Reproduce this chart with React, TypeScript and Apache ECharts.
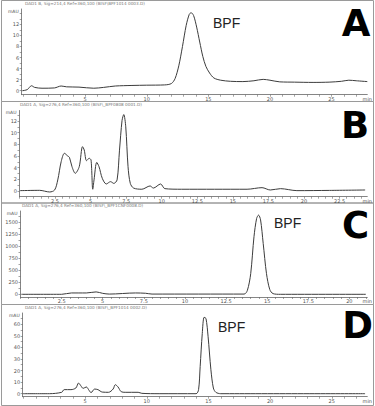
import React, { useEffect, useRef } from 'react';
import * as echarts from 'echarts';

// ---- Panel A (time min, signal mAU) ----
const traceA: [number, number][] = [
  [-0.1, 0], [0.3, 0.2], [0.65, 0.9], [0.9, 0.6], [1.5, 0.45], [2.5, 0.5], [3.05, 0.85], [3.5, 0.7],
  [4.5, 0.65], [5.7, 0.45], [6.5, 0.6], [7.45, 0.85], [8.8, 0.95], [10, 1.0], [11.45, 1.05], [12.0, 1.3],
  [12.3, 2.2], [12.6, 4.5], [12.9, 8.0], [13.2, 11.8], [13.45, 13.8], [13.6, 14.1], [13.8, 13.6],
  [14.05, 11.5], [14.3, 8.8], [14.55, 6.2], [14.8, 4.4], [15.1, 3.2], [15.45, 2.3], [16.0, 1.9],
  [16.8, 1.7], [17.8, 1.65], [18.7, 1.8], [19.45, 2.05], [20.0, 1.9], [20.8, 1.6], [22, 1.55],
  [23.5, 1.5], [24.8, 1.55], [25.8, 1.7], [26.4, 1.9], [27.0, 1.8], [27.9, 1.65],
];
const xLabelsA = [5, 10, 15, 20, 25];
const yLabelsA = [0, 2, 4, 6, 8, 10, 12];

// ---- Panel B ----
const traceB: [number, number][] = [
  [0.03, 0.06], [1.42, 0.11], [2.12, -0.17], [2.47, 0.17], [2.69, 1.89], [2.93, 5.03], [3.16, 6.46],
  [3.39, 6.0], [3.51, 5.77], [3.69, 4.17], [3.92, 3.03], [4.2, 4.17], [4.43, 7.6], [4.55, 7.03],
  [4.71, 5.2], [4.9, 5.6], [5.03, 5.3], [5.15, 0.3], [5.24, 1.9], [5.43, 4.9], [5.59, 4.17],
  [5.82, 2.17], [6.1, 1.2], [6.4, 1.6], [6.63, 1.3], [6.86, 1.9], [7.03, 7.0], [7.21, 12.1],
  [7.33, 13.1], [7.47, 11.0], [7.63, 4.17], [7.79, 1.3], [8.02, 0.5], [8.6, 0.3], [9.18, 0.86],
  [9.41, 0.5], [9.92, 1.2], [10.22, 0.4], [11.38, 0.3], [13.7, 0.3], [16.0, 0.3], [17.05, 0.57],
  [17.63, 0.17], [18.35, 0.4], [19.5, 0.06], [21.8, 0.1], [24.3, 0.17],
];
const xLabelsB = [2.5, 5, 7.5, 10, 12.5, 15, 17.5, 20, 22.5];
const yLabelsB = [0, 2, 4, 6, 8, 10, 12];

// ---- Panel C ----
const traceC: [number, number][] = [
  [0.05, 0], [2.5, 0], [3.1, 28], [4.0, 28], [4.6, 50], [5.0, 20], [5.4, 5], [7.0, 28], [7.6, 22],
  [8.0, 5], [13.6, 5], [13.8, 84], [14.0, 430], [14.2, 1200], [14.36, 1580], [14.48, 1650],
  [14.6, 1550], [14.76, 1060], [14.96, 430], [15.16, 100], [15.36, 14], [15.8, 0], [21.0, 0],
];
const xLabelsC = [2.5, 5, 7.5, 10, 12.5, 15, 17.5, 20];
const yLabelsC = [0, 250, 500, 750, 1000, 1250, 1500];

// ---- Panel D ----
const traceD: [number, number][] = [
  [-0.05, 0], [2.1, 0], [3.1, 1.2], [3.3, 3.5], [3.85, 3.5], [4.25, 4.9], [4.47, 9.2], [4.65, 6.9],
  [4.84, 4.6], [5.1, 5.8], [5.32, 2.9], [5.48, 0.9], [5.77, 4.0], [6.04, 3.5], [6.39, 1.4],
  [6.9, 1.2], [7.27, 4.0], [7.45, 7.8], [7.67, 5.8], [7.93, 1.7], [8.25, 1.2], [9.3, 1.2],
  [9.6, 0.3], [11, 0], [14.0, 0], [14.2, 3.5], [14.33, 23.6], [14.5, 52], [14.65, 66], [14.8, 65],
  [14.97, 49.6], [15.2, 20.7], [15.4, 4.9], [15.6, 1.2], [16.0, 0], [27.7, 0],
];
const xLabelsD = [5, 10, 15, 20, 25];
const yLabelsD = [0, 10, 20, 30, 40, 50, 60];

const titles = [
  'DAD1 B, Sig=214,4 Ref=360,100 (BISF\\BPF1014 0003.D)',
  'DAD1 A, Sig=276,4 Ref=360,100 (BISF\\_BPF0808 0001.D)',
  'DAD1 A, Sig=276,4 Ref=360,100 (BISF\\_BPF1CNF0008.D)',
  'DAD1 A, Sig=276,4 Ref=360,100 (BISF\\_BPF1014 0002.D)',
];
const letters = ['A', 'B', 'C', 'D'];

function range(a: number, b: number, step: number) {
  const out: number[] = [];
  for (let v = a; v <= b + 1e-9; v += step) out.push(Math.round(v * 1000) / 1000);
  return out;
}

type Panel = {
  data: [number, number][];
  grid: { left: number; top: number; width: number; height: number };
  xMin: number; xMax: number; xLabels: number[]; xMinor: number;
  yMin: number; yMax: number; yLabels: number[]; yMinor: number;
};

const panels: Panel[] = [
  { data: traceA, grid: { left: 21.7, top: 9, width: 350.3, height: 85.7 }, xMin: -0.15, xMax: 27.9, xLabels: xLabelsA, xMinor: 1, yMin: -0.72, yMax: 14.77, yLabels: yLabelsA, yMinor: 1 },
  { data: traceB, grid: { left: 19.5, top: 110.5, width: 352.5, height: 86.2 }, xMin: 0, xMax: 24.45, xLabels: xLabelsB, xMinor: 0.5, yMin: -0.98, yMax: 13.8, yLabels: yLabelsB, yMinor: 1 },
  { data: traceC, grid: { left: 20.5, top: 211, width: 351.5, height: 86 }, xMin: 0, xMax: 21.09, xLabels: xLabelsC, xMinor: 0.5, yMin: -56, yMax: 1735, yLabels: yLabelsC, yMinor: 125 },
  { data: traceD, grid: { left: 22.7, top: 313, width: 349.3, height: 83.7 }, xMin: -0.06, xMax: 27.88, xLabels: xLabelsD, xMinor: 1, yMin: -2.6, yMax: 69.7, yLabels: yLabelsD, yMinor: 5 },
];

const axisColor = '#666';
const labelColor = '#555';

export default function App() {
  const ref = useRef<HTMLDivElement>(null);
  useEffect(() => {
    if (!ref.current) return;
    const chart = echarts.init(ref.current, undefined, { renderer: 'svg' });
    const grids = panels.map((p) => ({ ...p.grid, containLabel: false }));
    const xAxes = panels.map((p, i) => ({
      type: 'value',
      gridIndex: i,
      min: p.xMin,
      max: p.xMax,
      axisLine: { show: true, onZero: false, lineStyle: { color: axisColor, width: 0.8 } },
      axisTick: {
        show: true,
        customValues: range(Math.ceil(p.xMin / p.xMinor) * p.xMinor, p.xMax, p.xMinor),
        length: 2,
        lineStyle: { color: axisColor, width: 0.6 },
      },
      axisLabel: {
        customValues: [...p.xLabels, p.xMax],
        formatter: (v: number) => (Math.abs(v - p.xMax) < 1e-6 ? 'min' : String(v)),
        fontSize: 5,
        lineHeight: 5,
        color: labelColor,
        margin: 1.5,
        fontFamily: 'DejaVu Sans',
      },
      splitLine: { show: false },
    }));
    const yAxes = panels.map((p, i) => ({
      type: 'value',
      gridIndex: i,
      min: p.yMin,
      max: p.yMax,
      name: 'mAU',
      nameLocation: 'end',
      nameGap: -2,
      nameTextStyle: { fontSize: 4.5, color: labelColor, align: 'right', verticalAlign: 'middle', padding: [0, 3, 0, 0], fontFamily: 'DejaVu Sans' },
      axisLine: { show: true, onZero: false, lineStyle: { color: axisColor, width: 0.8 } },
      axisTick: {
        show: true,
        customValues: range(0, p.yMax, p.yMinor),
        length: 2,
        lineStyle: { color: axisColor, width: 0.6 },
      },
      axisLabel: {
        customValues: p.yLabels,
        formatter: (v: number) => String(v),
        fontSize: 5,
        color: labelColor,
        margin: 2.5,
        fontFamily: 'DejaVu Sans',
      },
      splitLine: { show: false },
    }));
    const series = panels.map((p, i) => ({
      type: 'line',
      xAxisIndex: i,
      yAxisIndex: i,
      data: p.data,
      showSymbol: false,
      smooth: 0.3,
      lineStyle: { color: '#3c3c3c', width: 1 },
      silent: true,
    }));

    const frameTops = [0.5, 101.5, 203, 304.5];
    const frameHeights = [101, 101.5, 101.5, 101];
    const titleY = [3.5, 104.5, 205.5, 307];
    const titleX = [25, 20, 22, 25];
    const letterY = [23, 125, 225.5, 325.5];
    const letterX = [356, 355, 355.5, 357.5];

    const graphic: any[] = [];
    frameTops.forEach((t, i) => {
      graphic.push({
        type: 'rect',
        shape: { x: 1.5, y: t, width: 372, height: frameHeights[i] },
        style: { fill: 'none', stroke: '#9a9a9a', lineWidth: 1 },
        silent: true,
      });
    });
    titles.forEach((t, i) => {
      graphic.push({
        type: 'text',
        x: titleX[i],
        y: titleY[i],
        style: { text: t, fontSize: 4.2, lineHeight: 4.2, fill: '#777', fontFamily: 'DejaVu Sans', verticalAlign: 'middle' },
        silent: true,
      });
    });
    letters.forEach((l, i) => {
      graphic.push({
        type: 'text',
        x: letterX[i],
        y: letterY[i],
        style: { text: l, fontSize: 37, lineHeight: 28, fontWeight: 'bold', fill: '#000', fontFamily: 'DejaVu Sans', align: 'center', verticalAlign: 'middle' },
        silent: true,
      });
    });
    const bpf = [
      { x: 213, y: 23 },
      { x: 274, y: 223 },
      { x: 218, y: 327 },
    ];
    bpf.forEach((b) => {
      graphic.push({
        type: 'text',
        x: b.x,
        y: b.y,
        style: { text: 'BPF', fontSize: 14, lineHeight: 11, fill: '#222', fontFamily: 'Liberation Sans', verticalAlign: 'middle' },
        silent: true,
      });
    });

    chart.setOption({
      animation: false,
      backgroundColor: '#fff',
      grid: grids,
      xAxis: xAxes,
      yAxis: yAxes,
      series,
      graphic,
    } as any);
    return () => chart.dispose();
  }, []);
  return <div ref={ref} style={{ position: 'fixed', left: 0, top: 0, width: 375, height: 406 }} />;
}
